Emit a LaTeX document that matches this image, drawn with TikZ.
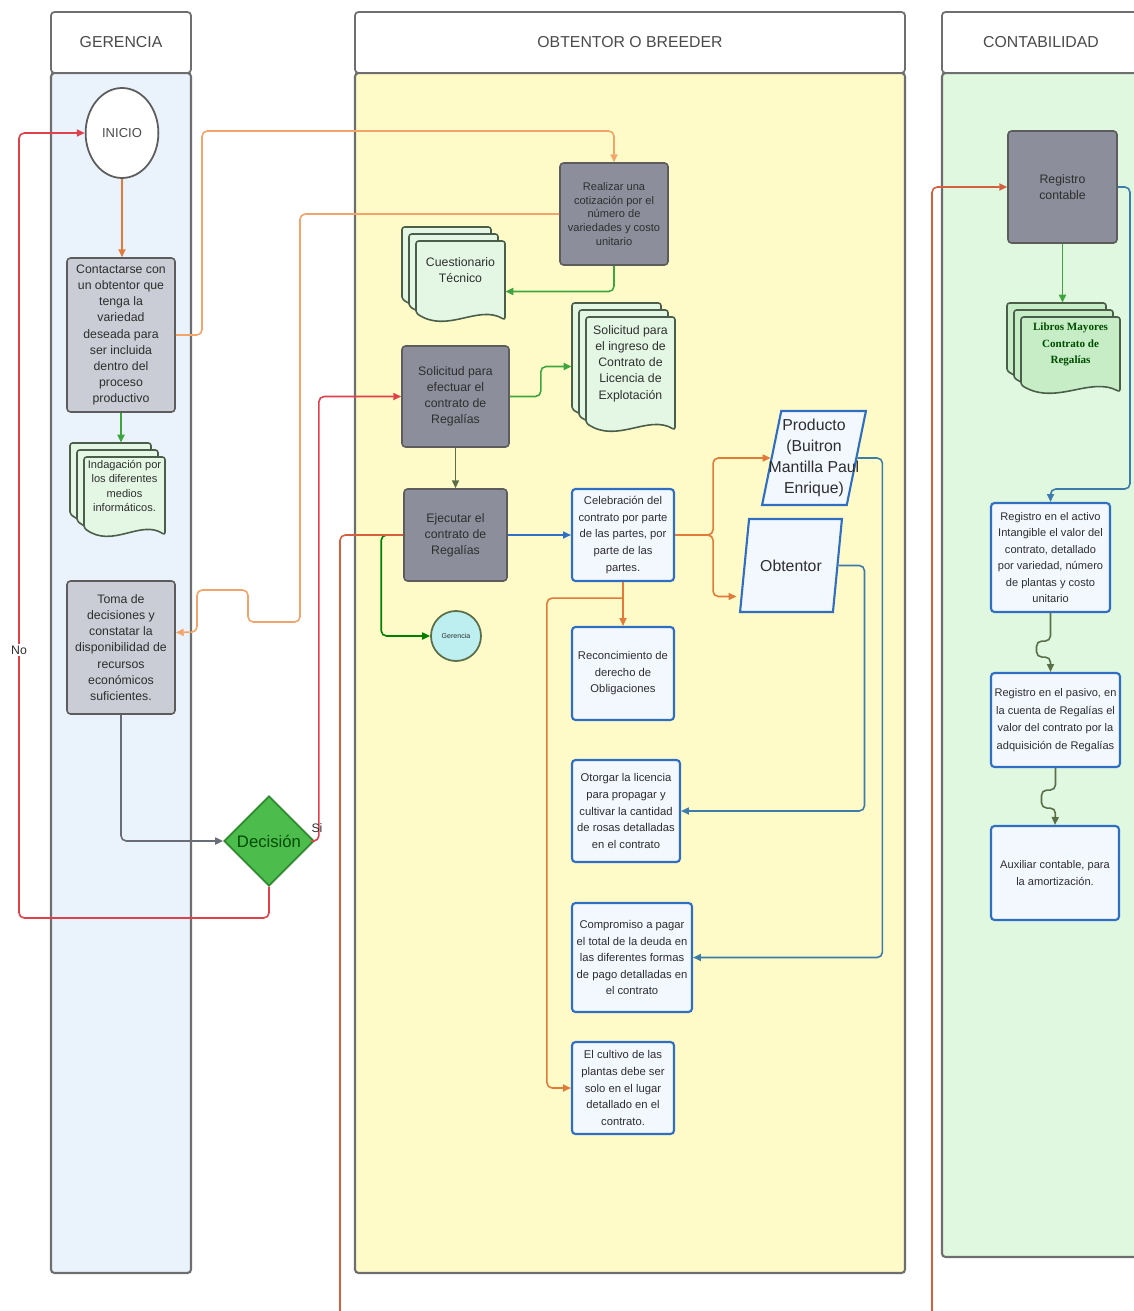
\documentclass[tikz,border=0pt]{standalone}
\usepackage{fontspec}
\setmainfont{Liberation Sans}
\newfontfamily\bookfont{Liberation Serif}
\usetikzlibrary{arrows.meta,shapes.geometric,calc}

\definecolor{gerfill}{HTML}{EAF2FC}
\definecolor{obtfill}{HTML}{FFFBC9}
\definecolor{confill}{HTML}{E0F8E0}
\definecolor{laneline}{HTML}{6E6E6E}
\definecolor{headc}{HTML}{4A4A4A}
\definecolor{txtc}{HTML}{2E2E2E}
\definecolor{greyfill}{HTML}{CACDD5}
\definecolor{darkfill}{HTML}{8C8F9B}
\definecolor{boxline}{HTML}{5C5C5C}
\definecolor{bluefill}{HTML}{F3F8FF}
\definecolor{blueline}{HTML}{2F6EC2}
\definecolor{docfill}{HTML}{E4F7E4}
\definecolor{docdark}{HTML}{C6EDC6}
\definecolor{docedge}{HTML}{4A5E4A}
\definecolor{decfill}{HTML}{4CBC4C}
\definecolor{decline}{HTML}{2F8A2F}
\definecolor{circfill}{HTML}{BDEFF0}
\definecolor{orangec}{HTML}{E07B39}
\definecolor{paleorange}{HTML}{F2A46A}
\definecolor{redc}{HTML}{E0404C}
\definecolor{rustc}{HTML}{D4603E}
\definecolor{greenc}{HTML}{3FA63F}
\definecolor{bluec}{HTML}{2F6FC8}
\definecolor{tealc}{HTML}{3D7BA8}
\definecolor{olivec}{HTML}{5A6E48}
\definecolor{greyc}{HTML}{6A6D75}

% one sheet of a stacked document
\newcommand{\docpage}[5]{%
  \pgfmathsetmacro\dpa{#1}\pgfmathsetmacro\dpb{#2}%
  \pgfmathsetmacro\dpc{#3}\pgfmathsetmacro\dpd{#4}%
  \pgfmathsetmacro\dpw{\dpc-\dpa}%
  \filldraw[docsheet, fill=#5] (\dpa,\dpd-7) -- (\dpa,\dpb) -- (\dpc,\dpb) -- (\dpc,\dpd)
    .. controls (\dpc-0.3*\dpw,\dpd-16) and (\dpa+0.35*\dpw,\dpd+14) .. (\dpa,\dpd-7) -- cycle;}
% three sheets, the named outline and its text
\newcommand{\docstack}[8]{%
  \docpage{#2}{#3}{#4-14}{#5-14}{#6}
  \docpage{#2+7}{#3+7}{#4-7}{#5-7}{#6}
  \docpage{#2+14}{#3+14}{#4}{#5}{#6}
  \node[inner sep=0pt, minimum width=(#4-#2)*0.2mm, minimum height=(#5-#3)*0.2mm]
    (#1) at ({(#2+#4)/2},{(#3+#5)/2}) {};
  \node[doctext, #7] (#1txt) at ({(#2+14+#4)/2},{(#3+14+#5)/2-10}) {#8};}

\tikzset{
  every node/.style={text=txtc},
  wh/.style 2 args={minimum width=#1*0.2mm, minimum height=#2*0.2mm},
  lanebody/.style={draw=laneline, line width=1.2pt, rounded corners=2pt},
  lanehead/.style={draw=laneline, line width=1pt, fill=white, rounded corners=2pt,
    text=headc, font=\fontsize{9}{11}\selectfont},
  greybox/.style={draw=boxline, fill=greyfill, line width=0.9pt, rounded corners=2pt,
    align=center, inner sep=1pt, font=\fontsize{7}{9.2}\selectfont},
  darkbox/.style={greybox, fill=darkfill},
  bluebox/.style={draw=blueline, fill=bluefill, line width=1.2pt, rounded corners=2pt,
    align=center, inner sep=1pt, font=\fontsize{6.4}{9.4}\selectfont},
  iobox/.style={trapezium, trapezium left angle=78, trapezium right angle=102,
    trapezium stretches=true, draw=blueline, fill=bluefill, line width=1.2pt,
    align=center, inner xsep=-9pt, inner ysep=1pt, font=\fontsize{9}{11.9}\selectfont},
  startnode/.style={ellipse, draw=boxline, fill=white, line width=1pt, wh={66}{90},
    text=headc, font=\fontsize{7.4}{9}\selectfont},
  decision/.style={diamond, aspect=1, draw=decline, fill=decfill, line width=1pt,
    inner sep=0pt, wh={90}{90}, text=green!30!black, font=\fontsize{9.5}{11}\selectfont},
  smallcirc/.style={circle, draw=olivec, fill=circfill, line width=1pt,
    minimum size=50*0.2mm, inner sep=0pt, font=\fontsize{4}{5}\selectfont},
  docsheet/.style={draw=docedge, line width=0.9pt, rounded corners=1.5pt},
  doctext/.style={align=center, inner sep=0pt},
  lbl/.style={inner sep=1pt, font=\fontsize{7}{8}\selectfont},
  conn/.style={line width=0.9pt, rounded corners=3pt, -{Triangle[length=4.5pt,width=4pt]}},
  wire/.style={line width=0.9pt, rounded corners=3pt}
}

\begin{document}
\begin{tikzpicture}[x=0.2mm, y=-0.2mm]
\useasboundingbox (0,0) rectangle (1133,1311);

% swimlanes
\draw[lanebody, fill=gerfill] (51,73) rectangle (191,1273);
\draw[lanebody, fill=obtfill] (355,73) rectangle (905,1273);
\draw[lanebody, fill=confill] (942,73) rectangle (1140,1257);
\node[lanehead, wh={140}{61}] (hger) at (121,42.5) {GERENCIA};
\node[lanehead, wh={550}{61}] (hobt) at (630,42.5) {OBTENTOR O BREEDER};
\node[lanehead, wh={198}{61}] (hcon) at (1041,42.5) {CONTABILIDAD};

% gerencia
\node[startnode] (inicio) at (122,133) {INICIO};
\node[greybox, wh={108}{154}] (contacto) at (121,335)
  {Contactarse con\\un obtentor que\\tenga la\\variedad\\deseada para\\ser incluida\\dentro del\\proceso\\productivo};
\docstack{indaga}{70}{443}{165}{535}{docfill}{font=\fontsize{6.3}{8.3}\selectfont}
  {Indagación por\\los diferentes\\medios\\informáticos.}
\node[greybox, wh={108}{133}] (toma) at (121,647.5)
  {Toma de\\decisiones y\\constatar la\\disponibilidad de\\recursos\\económicos\\suficientes.};
\node[decision] (decision) at (269,841) {Decisión};

% obtentor
\node[darkbox, font=\fontsize{6.3}{7.7}\selectfont, wh={108}{102}] (cotiza) at (614,214)
  {Realizar una\\cotización por el\\número de\\variedades y costo\\unitario};
\docstack{cuestion}{402}{227}{505}{320}{docfill}{font=\fontsize{7}{9}\selectfont}
  {Cuestionario\\Técnico}
\node[darkbox, wh={107}{101}] (solicitud) at (455.5,396.5)
  {Solicitud para\\efectuar el\\contrato de\\Regalías};
\docstack{ingreso}{572}{303}{675}{430}{docfill}{font=\fontsize{7}{9.2}\selectfont}
  {Solicitud para\\el ingreso de\\Contrato de\\Licencia de\\Explotación};
\node[darkbox, wh={103}{92}] (ejecutar) at (455.5,535)
  {Ejecutar el\\contrato de\\Regalías};
\node[smallcirc] (gercirc) at (456,636) {Gerencia};
\node[bluebox, wh={102}{92}] (celebra) at (623,535)
  {Celebración del\\contrato por parte\\de las partes, por\\parte de las\\partes.};
\node[iobox, wh={104}{94}] (producto) at (814,458)
  {Producto\\(Buitron\\Mantilla Paul\\Enrique)};
\node[iobox, wh={102}{93}] (obtentor) at (791,565.5) {Obtentor};
\node[bluebox, wh={102}{93}] (reconoce) at (623,673.5)
  {Reconcimiento de\\derecho de\\Obligaciones};
\node[bluebox, wh={108}{102}] (otorga) at (626,811)
  {Otorgar la licencia\\para propagar y\\cultivar la cantidad\\de rosas detalladas\\en el contrato};
\node[bluebox, wh={120}{109}] (compromiso) at (632,957.5)
  {Compromiso a pagar\\el total de la deuda en\\las diferentes formas\\de pago detalladas en\\el contrato};
\node[bluebox, wh={102}{92}] (cultivo) at (623,1088)
  {El cultivo de las\\plantas debe ser\\solo en el lugar\\detallado en el\\contrato.};

% contabilidad
\node[darkbox, wh={109}{112}] (regcont) at (1062.5,187) {Registro\\contable};
\docstack{libros}{1007}{303}{1120}{392}{docdark}
  {font=\bookfont\bfseries\fontsize{6.3}{9.6}\selectfont, text=green!30!black}
  {Libros Mayores\\Contrato de\\Regalías}
\node[bluebox, font=\fontsize{6.3}{9.4}\selectfont, wh={119}{109}] (activo) at (1050.5,557.5)
  {Registro en el activo\\Intangible el valor del\\contrato, detallado\\por variedad, número\\de plantas y costo\\unitario};
\node[bluebox, font=\fontsize{6.3}{10}\selectfont, wh={129}{94}] (pasivo) at (1055.5,720)
  {Registro en el pasivo, en\\la cuenta de Regalías el\\valor del contrato por la\\adquisición de Regalías};
\node[bluebox, font=\fontsize{6.3}{9.4}\selectfont, wh={128}{94}] (auxiliar) at (1055,873)
  {Auxiliar contable, para\\la amortización.};

\coordinate (exitA) at (340,1311);
\coordinate (exitB) at (932,1311);

% connectors
\draw[conn, orangec] (inicio.south) -- (inicio.south |- contacto.north);
\draw[conn, greenc] (contacto.south) -- (contacto.south |- indaga.north);
\draw[conn, paleorange] (contacto.east) -| (202,131) -| (cotiza.north);
\draw[conn, paleorange] (cotiza.west) -| (300,622) -| (248,590) -| (197,632)
  -- ($(toma.east)+(0,-15)$);
\draw[conn, greenc] (cotiza.south) |- ($(cuestion.east)+(0,18)$);
\draw[conn, greyc] (toma.south) |- (decision.west);
\draw[conn, redc] (decision.east) -- ++(4,0) |- (solicitud.west);
\draw[conn, redc] (decision.south) |- (19,918) |- (inicio.west);
\node[lbl, fill=white] (lblno) at (19,650) {No};
\node[lbl] (lblsi) at (317,828) {Si};
\draw[conn, greenc] (solicitud.east) -- ++(31,0) |- (ingreso.west);
\draw[conn, olivec] (solicitud.south) -- (ejecutar.north);
\draw[conn, green!50!black] (ejecutar.west) -- ++(-22,0) |- (gercirc.west);
\draw[wire, rustc] (ejecutar.west) -| (exitA);
\draw[conn, bluec] (ejecutar.east) -- (celebra.west);
\draw[conn, orangec] (celebra.east) -- ++(38,0) |- (producto.west);
\draw[conn, orangec] (celebra.east) -- ++(38,0) |- ($(obtentor.west)+(-7,31)$);
\draw[conn, orangec] (celebra.south) -- (reconoce.north);
\draw[conn, orangec] ($(celebra.south)+(0,16)$) -| ($(cultivo.west)+(-24,0)$) -- (cultivo.west);
\draw[conn, tealc] (obtentor.east) -- ++(26,0) |- (otorga.east);
\draw[conn, tealc] (producto.east) -- ++(25,0) |- (compromiso.east);
\draw[conn, rustc] (exitB) |- (regcont.west);
\draw[conn, greenc] (regcont.south) -- (regcont.south |- libros.north);
\draw[conn, tealc] (regcont.east) -| (1130,489) -| (activo.north);
\draw[conn, olivec] (activo.south) -- ++(0,28) -- ++(-14,0) -- ++(0,16) -- ++(14,0)
  -- (pasivo.north -| activo.south);
\draw[conn, olivec] (pasivo.south) -- ++(0,22) -- ++(-14,0) -- ++(0,18) -- ++(14,0)
  -- (auxiliar.north);
\end{tikzpicture}
\end{document}
